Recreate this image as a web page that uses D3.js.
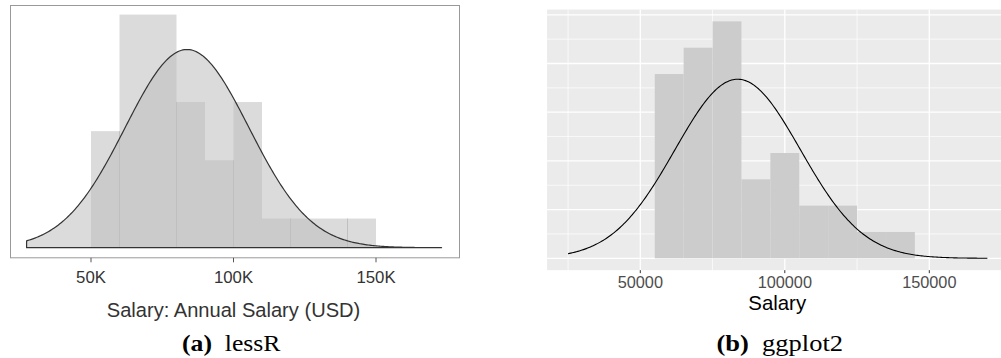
<!DOCTYPE html>
<html>
<head>
<meta charset="utf-8">
<script src="https://cdn.jsdelivr.net/npm/d3@7"></script>
<style>
  body { margin: 0; background: #fff; }
  svg { display: block; }
</style>
</head>
<body>
<div id="vis"></div>
<script>
// data
const sampleSize = 37;
const binWidth = 10000;
const salaryMean = 83700;   // fitted normal curve
const salarySd = 21700;

// (a) lessR histogram: bins of 10K starting at 50K
const lessrBinStarts = [50000, 60000, 70000, 80000, 90000, 100000, 110000, 120000, 130000, 140000];
const lessrCounts = [4, 8, 8, 5, 3, 5, 1, 1, 1, 1];
const lessrEdgeLines = [60000, 80000, 100000, 120000, 140000];
const lessrCurveRange = [27400, 173000];
const lessrTicks = [50000, 100000, 150000];
const lessrTickLabels = ['50K', '100K', '150K'];

// (b) ggplot2 histogram: bins of 10K starting at 55K
const ggBinStarts = [55000, 65000, 75000, 85000, 95000, 105000, 115000, 125000, 135000];
const ggCounts = [7, 8, 9, 3, 4, 2, 2, 1, 1];
const ggCurveRange = [25000, 170100];
const ggMajorX = [50000, 100000, 150000];
const ggMinorX = [25000, 75000, 125000, 175000];
const ggMajorY = [0, 5e-6, 1e-5, 1.5e-5, 2e-5, 2.5e-5];
const ggMinorY = [2.5e-6, 7.5e-6, 1.25e-5, 1.75e-5, 2.25e-5];

const width = 1001;
const height = 358;
const sansFont = '"Liberation Sans", Arial, Helvetica, sans-serif';
const serifFont = '"Liberation Serif", "Times New Roman", serif';

const svg = d3.select('#vis')
    .append('svg')
    .attr('width', width)
    .attr('height', height);

const normalPdf = x => Math.exp(-0.5 * ((x - salaryMean) / salarySd) ** 2) / (salarySd * Math.sqrt(2 * Math.PI));
const curvePoints = range => d3.range(0, 301).map(i => {
    const x = range[0] + (range[1] - range[0]) * i / 300;
    return { x, density: normalPdf(x) };
});

// ---------- (a) lessR ----------
const boxA = { left: 10, right: 459, top: 5, bottom: 257.3 };
const xA = d3.scaleLinear().domain([50000, 150000]).range([91, 376]);
const yA = d3.scaleLinear().domain([0, 8]).range([247.7, 14.6]);   // counts per bin
const lessrFill = 'rgba(190,190,190,0.55)';

const gA = svg.append('g');

gA.append('rect')
    .attr('x', boxA.left + 0.5)
    .attr('y', boxA.top + 0.5)
    .attr('width', boxA.right - boxA.left)
    .attr('height', boxA.bottom - boxA.top)
    .attr('fill', 'none')
    .attr('stroke', '#999')
    .attr('stroke-width', 1);

gA.selectAll('rect.bar')
    .data(lessrBinStarts.map((s, i) => ({ start: s, count: lessrCounts[i] })))
    .join('rect')
    .attr('class', 'bar')
    .attr('x', d => xA(d.start))
    .attr('y', d => yA(d.count))
    .attr('width', d => xA(d.start + binWidth) - xA(d.start))
    .attr('height', d => yA(0) - yA(d.count))
    .attr('fill', lessrFill);

// faint bar borders
const countAt = v => {
    const i = lessrBinStarts.indexOf(v);
    const left = i > 0 ? lessrCounts[i - 1] : 0;
    const right = i >= 0 ? lessrCounts[i] : 0;
    return Math.min(left, right);
};
gA.selectAll('line.edge')
    .data(lessrEdgeLines)
    .join('line')
    .attr('class', 'edge')
    .attr('x1', d => xA(d)).attr('x2', d => xA(d))
    .attr('y1', yA(0))
    .attr('y2', d => yA(countAt(d)))
    .attr('stroke', '#b8b8b8')
    .attr('stroke-width', 0.8);

const scaleA = sampleSize * binWidth;
const areaA = d3.area()
    .x(d => xA(d.x))
    .y0(yA(0))
    .y1(d => yA(d.density * scaleA))
    .curve(d3.curveLinear);

gA.append('path')
    .datum(curvePoints(lessrCurveRange))
    .attr('d', d => areaA(d) + 'Z')
    .attr('fill', lessrFill)
    .attr('stroke', '#333')
    .attr('stroke-width', 1.2)
    .attr('stroke-linejoin', 'round');

// x axis ticks below the box
gA.selectAll('line.tick')
    .data(lessrTicks)
    .join('line')
    .attr('class', 'tick')
    .attr('x1', d => xA(d)).attr('x2', d => xA(d))
    .attr('y1', boxA.bottom + 0.5)
    .attr('y2', boxA.bottom + 5)
    .attr('stroke', '#555')
    .attr('stroke-width', 1);

gA.selectAll('text.tick')
    .data(lessrTicks)
    .join('text')
    .attr('class', 'tick')
    .attr('x', d => xA(d))
    .attr('y', 283)
    .attr('text-anchor', 'middle')
    .attr('font-family', sansFont)
    .attr('font-size', 16.8)
    .attr('fill', '#333')
    .text((d, i) => lessrTickLabels[i]);

gA.append('text')
    .attr('x', 233.5)
    .attr('y', 316.5)
    .attr('text-anchor', 'middle')
    .attr('font-family', sansFont)
    .attr('font-size', 20.1)
    .attr('fill', '#333')
    .text('Salary: Annual Salary (USD)');

// ---------- (b) ggplot2 ----------
const xB = d3.scaleLinear().domain([50000, 150000]).range([640.3, 929.3]);
const yB = d3.scaleLinear().domain([0, 2.5e-5]).range([258.3, 14.8]);   // density
const panelB = { left: xB(17750), right: xB(177250), top: yB(2.554e-5), bottom: yB(-1.216e-6) };

const gB = svg.append('g');

gB.append('rect')
    .attr('x', panelB.left)
    .attr('y', panelB.top)
    .attr('width', panelB.right - panelB.left)
    .attr('height', panelB.bottom - panelB.top)
    .attr('fill', '#ebebeb');

gB.selectAll('line.minor-y')
    .data(ggMinorY)
    .join('line')
    .attr('class', 'minor-y')
    .attr('x1', panelB.left).attr('x2', panelB.right)
    .attr('y1', d => yB(d)).attr('y2', d => yB(d))
    .attr('stroke', '#fff').attr('stroke-width', 0.7);

gB.selectAll('line.minor-x')
    .data(ggMinorX)
    .join('line')
    .attr('class', 'minor-x')
    .attr('x1', d => xB(d)).attr('x2', d => xB(d))
    .attr('y1', panelB.top).attr('y2', panelB.bottom)
    .attr('stroke', '#fff').attr('stroke-width', 0.7);

gB.selectAll('line.major-y')
    .data(ggMajorY)
    .join('line')
    .attr('class', 'major-y')
    .attr('x1', panelB.left).attr('x2', panelB.right)
    .attr('y1', d => yB(d)).attr('y2', d => yB(d))
    .attr('stroke', '#fff').attr('stroke-width', 1.3);

gB.selectAll('line.major-x')
    .data(ggMajorX)
    .join('line')
    .attr('class', 'major-x')
    .attr('x1', d => xB(d)).attr('x2', d => xB(d))
    .attr('y1', panelB.top).attr('y2', panelB.bottom)
    .attr('stroke', '#fff').attr('stroke-width', 1.3);

gB.selectAll('rect.bar')
    .data(ggBinStarts.map((s, i) => ({ start: s, count: ggCounts[i] })))
    .join('rect')
    .attr('class', 'bar')
    .attr('x', d => xB(d.start))
    .attr('y', d => yB(d.count / scaleA))
    .attr('width', d => xB(d.start + binWidth) - xB(d.start))
    .attr('height', d => yB(0) - yB(d.count / scaleA))
    .attr('fill', '#cccccc');

gB.append('path')
    .datum(curvePoints(ggCurveRange))
    .attr('d', d3.line().x(d => xB(d.x)).y(d => yB(d.density)))
    .attr('fill', 'none')
    .attr('stroke', '#000')
    .attr('stroke-width', 1.1);

gB.selectAll('line.tick')
    .data(ggMajorX)
    .join('line')
    .attr('class', 'tick')
    .attr('x1', d => xB(d)).attr('x2', d => xB(d))
    .attr('y1', panelB.bottom)
    .attr('y2', panelB.bottom + 3)
    .attr('stroke', '#333')
    .attr('stroke-width', 1);

gB.selectAll('text.tick')
    .data(ggMajorX)
    .join('text')
    .attr('class', 'tick')
    .attr('x', d => xB(d))
    .attr('y', 288.3)
    .attr('text-anchor', 'middle')
    .attr('font-family', sansFont)
    .attr('font-size', 16.3)
    .attr('fill', '#4d4d4d')
    .text(d => d3.format('d')(d));

gB.append('text')
    .attr('x', 777.2)
    .attr('y', 310)
    .attr('text-anchor', 'middle')
    .attr('font-family', sansFont)
    .attr('font-size', 20.4)
    .attr('fill', '#000')
    .text('Salary');

// ---------- captions ----------
const captions = [
    { label: '(a)', name: 'lessR', x0: 182, x1: 280.5 },
    { label: '(b)', name: 'ggplot2', x0: 716.5, x1: 843 }
];
captions.forEach(c => {
    const t = svg.append('text')
        .attr('x', c.x0)
        .attr('y', 351)
        .attr('font-family', serifFont)
        .attr('font-size', 23)
        .attr('fill', '#000')
        .attr('textLength', c.x1 - c.x0)
        .attr('lengthAdjust', 'spacingAndGlyphs');
    t.append('tspan').attr('font-weight', 'bold').text(c.label);
    t.append('tspan').text('\u2002' + c.name);
});
</script>
</body>
</html>
